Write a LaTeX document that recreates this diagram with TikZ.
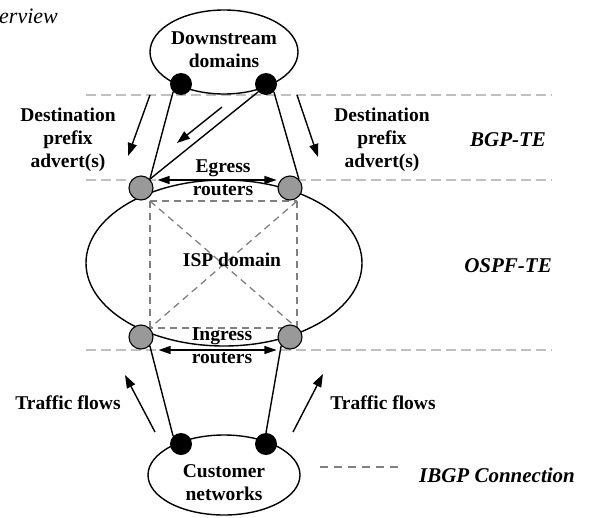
\documentclass[tikz,border=0pt]{standalone}
\usepackage{fontspec}
\setmainfont{Liberation Serif}
\usepackage{tikz}
\usetikzlibrary{calc,arrows.meta,shapes.geometric}
\definecolor{sepgray}{HTML}{C0C0C0}
\definecolor{meshgray}{HTML}{808080}
\definecolor{rtrgray}{HTML}{999999}
\tikzset{
  link/.style={draw=black, line width=1.4pt},
  flow/.style={draw=black, line width=1.4pt, -{Triangle[length=13pt,width=9pt]}},
  bothflow/.style={draw=black, line width=1.4pt, {Triangle[length=12pt,width=8pt]}-{Triangle[length=12pt,width=8pt]}},
  sepline/.style={draw=sepgray, line width=1.3pt, dash pattern=on 10pt off 5pt},
  mesh/.style={draw=meshgray, line width=1.3pt, dash pattern=on 7pt off 5pt},
  areabox/.style={ellipse, draw=black, line width=1.4pt, inner sep=0pt},
  rtr/.style={circle, fill=rtrgray, draw=black, line width=1.1pt, minimum size=24pt, inner sep=0pt},
  bdr/.style={circle, fill=black, minimum size=22pt, inner sep=0pt},
  lab/.style={font=\fontsize{19.5}{23}\selectfont\bfseries, align=center, inner sep=0pt},
  tag/.style={font=\fontsize{21}{25}\selectfont\bfseries\itshape, inner sep=0pt},
}

\begin{document}
\begin{tikzpicture}[x=1pt,y=-1pt]
  \useasboundingbox (0,0) rectangle (592,517);
  % layer boundaries
  \foreach \y in {95,180,350}
    \draw[sepline] (86,\y) -- (552,\y);

  \node[areabox, minimum width=148pt, minimum height=84pt] (down) at (224,52) {};
  \node[areabox, minimum width=276pt, minimum height=166pt] (isp) at (224,263) {};
  \node[areabox, minimum width=152pt, minimum height=80pt] (cust) at (224,475) {};

  % IBGP full mesh
  \coordinate (m1) at (150,201);
  \coordinate (m2) at (297,201);
  \coordinate (m3) at (297,328);
  \coordinate (m4) at (150,328);
  \foreach \a/\b in {m1/m2,m2/m3,m3/m4,m4/m1,m1/m3,m2/m4}
    \draw[mesh] (\a) -- (\b);

  \node[bdr] (d1) at (181,84) {};
  \node[bdr] (d2) at (266,84) {};
  \node[rtr] (e1) at (141,188) {};
  \node[rtr] (e2) at (290,188) {};
  \node[rtr] (i1) at (141,337) {};
  \node[rtr] (i2) at (290,337) {};
  \node[bdr] (c1) at (181,444) {};
  \node[bdr] (c2) at (266,444) {};

  \draw[link] (d1.south west) -- (e1.north east);
  \draw[link] (d2.south west) -- (e1.north east);
  \draw[link] (d2.south east) -- (e2.north east);
  \draw[link] (i1.south east) -- (c1.north west);
  \draw[link] (i2.south west) -- (c2.north);

  \draw[bothflow] ($(e1.east)+(4,-8)$) -- ($(e2.west)+(-1,-8)$);
  \draw[bothflow] ($(i1.east)+(5,13)$) -- ($(i2.west)+(-1,13)$);

  % adverts and flows
  \coordinate (a1) at (150,95);  \coordinate (a2) at (128,156);
  \coordinate (a3) at (222,107); \coordinate (a4) at (177,143);
  \coordinate (a5) at (297,95);  \coordinate (a6) at (318,157);
  \coordinate (f1) at (155,432); \coordinate (f2) at (125,375);
  \coordinate (f3) at (293,432); \coordinate (f4) at (323,374);
  \draw[flow] (a1) -- (a2);
  \draw[flow] (a3) -- (a4);
  \draw[flow] (a5) -- (a6);
  \draw[flow] (f1) -- (f2);
  \draw[flow] (f3) -- (f4);

  \node[lab] (downl) at (224,50) {Downstream\\domains};
  \node[lab] (custl) at (224,483) {Customer\\networks};
  \node[lab] (ispl) at (232,260) {ISP domain};
  \node[lab] (egl) at (223,178) {Egress\\routers};
  \node[lab] (ingl) at (222,346) {Ingress\\routers};
  \node[lab] (advl) at (68,140) {Destination\\prefix\\advert(s)};
  \node[lab] (advr) at (382,140) {Destination\\prefix\\advert(s)};
  \node[lab] (tfl) at (68,403) {Traffic flows};
  \node[lab] (tfr) at (383,403) {Traffic flows};
  \node[tag] (bgp) at (508,140) {BGP-TE};
  \node[tag] (ospf) at (508,266) {OSPF-TE};

  % legend
  \coordinate (lg1) at (320,467);
  \coordinate (lg2) at (398,467);
  \draw[mesh, dash pattern=on 8pt off 6pt] (lg1) -- (lg2);
  \node[tag] (ibgpl) at (497,475) {IBGP Connection};

  \node[font=\fontsize{22}{26}\selectfont\itshape, anchor=base west, inner sep=0pt] (ovw) at (-1,23) {erview};
\end{tikzpicture}
\end{document}
